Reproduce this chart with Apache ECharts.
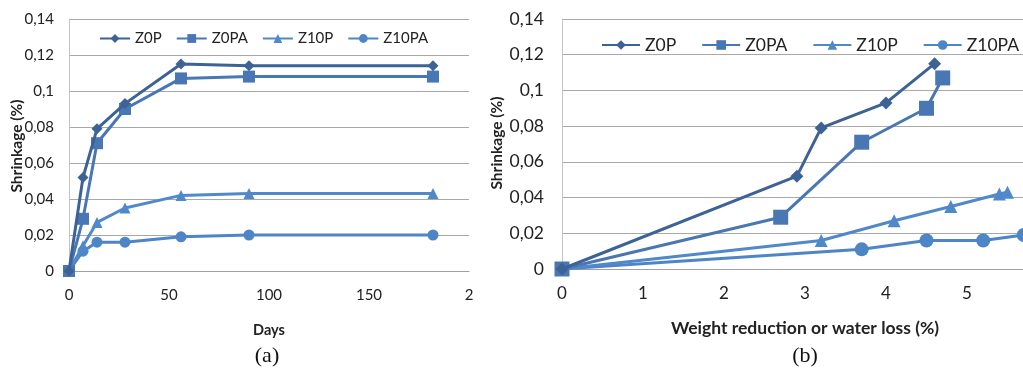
<!DOCTYPE html>
<html>
<head>
<meta charset="utf-8">
<script src="https://cdn.jsdelivr.net/npm/echarts@6/dist/echarts.min.js"></script>
<style>
  html, body { margin: 0; padding: 0; background: #fff; overflow: hidden; }
  #chart { width: 1100px; height: 371px; }
</style>
</head>
<body>
<div id="chart"></div>
<script>
// (a) shrinkage vs days
let days = [0, 7, 14, 28, 56, 90, 182];
let z0p = [0, 0.052, 0.079, 0.093, 0.115, 0.114, 0.114];
let z0pa = [0, 0.029, 0.071, 0.090, 0.107, 0.108, 0.108];
let z10p = [0, 0.014, 0.027, 0.035, 0.042, 0.043, 0.043];
let z10pa = [0, 0.011, 0.016, 0.016, 0.019, 0.020, 0.020];

// (b) shrinkage vs weight reduction
let lossZ0P = [0, 2.9, 3.2, 4.0, 4.6];
let shrZ0P = [0, 0.052, 0.079, 0.093, 0.115];
let lossZ0PA = [0, 2.7, 3.7, 4.5, 4.7];
let shrZ0PA = [0, 0.029, 0.071, 0.090, 0.107];
let lossZ10P = [0, 3.2, 4.1, 4.8, 5.4, 5.5];
let shrZ10P = [0, 0.016, 0.027, 0.035, 0.042, 0.043];
let lossZ10PA = [0, 3.7, 4.5, 5.2, 5.7];
let shrZ10PA = [0, 0.011, 0.016, 0.016, 0.019];

let names = ['Z0P', 'Z0PA', 'Z10P', 'Z10PA'];
let colours = ['#3d6296', '#4977b4', '#5089c9', '#4d85c6'];
let symbols = ['diamond', 'rect', 'triangle', 'circle'];

let font = 'Lato, "Open Sans", sans-serif';

function pairs(xs, ys) {
    let out = [];
    for (let i = 0; i < xs.length; i++) out.push([xs[i], ys[i]]);
    return out;
}

function yFmt(v) {
    return String(+v.toFixed(2)).replace('.', ',');
}

var myChart = echarts.init(document.getElementById('chart'));

let leftSets = [z0p, z0pa, z10p, z10pa];
let rightSets = [pairs(lossZ0P, shrZ0P), pairs(lossZ0PA, shrZ0PA), pairs(lossZ10P, shrZ10P), pairs(lossZ10PA, shrZ10PA)];
let leftSizes = [11, 12, 11, 11];
let rightSizes = [13, 15, 13, 14];

let series = [];
names.forEach((name, i) => {
    series.push({
        name: name, type: 'line', xAxisIndex: 0, yAxisIndex: 0,
        data: pairs(days, leftSets[i]),
        symbol: symbols[i], symbolSize: leftSizes[i],
        color: colours[i], lineStyle: { width: 3 },
        z: 10 - i
    });
});
names.forEach((name, i) => {
    series.push({
        name: name, type: 'line', xAxisIndex: 1, yAxisIndex: 1,
        data: rightSets[i],
        symbol: symbols[i], symbolSize: rightSizes[i],
        color: colours[i], lineStyle: { width: 3 },
        z: 10 - i
    });
});

let yAxisBase = {
    type: 'value', min: 0, max: 0.14, interval: 0.02,
    axisLine: { show: true, lineStyle: { color: '#c4c4c4' } },
    axisTick: { show: false },
    splitLine: { lineStyle: { color: '#a8a8a8', width: 1 } }
};

let option = {
    animation: false,
    textStyle: { fontFamily: font },
    legend: [
        {
            data: names, left: 94, top: 26, itemWidth: 30, itemHeight: 11, itemGap: 14,
            textStyle: { fontSize: 15, color: '#222', fontFamily: font }
        },
        {
            data: names, left: 596, top: 31, itemWidth: 38, itemHeight: 12, itemGap: 25,
            textStyle: { fontSize: 17.5, color: '#222', fontFamily: font }
        }
    ],
    grid: [
        { left: 69, top: 19, width: 400, height: 252 },
        { left: 562, top: 19, width: 486, height: 250 }
    ],
    xAxis: [
        {
            gridIndex: 0, type: 'value', min: 0, max: 200, interval: 50,
            axisLine: { lineStyle: { color: '#a0a0a0' } },
            axisTick: { show: false }, splitLine: { show: false },
            axisLabel: { fontSize: 15, color: '#222', margin: 17, formatter: v => v === 200 ? '2' : String(v) },
            name: 'Days', nameLocation: 'middle', nameGap: 52,
            nameTextStyle: { fontSize: 14.5, fontWeight: 'bold', color: '#222' }
        },
        {
            gridIndex: 1, type: 'value', min: 0, max: 6, interval: 1,
            axisLine: { lineStyle: { color: '#a0a0a0' } },
            axisTick: { show: false }, splitLine: { show: false },
            axisLabel: { fontSize: 17, color: '#222', margin: 16 },
            name: 'Weight reduction or water loss (%)', nameLocation: 'middle', nameGap: 50,
            nameTextStyle: { fontSize: 17.5, fontWeight: 'bold', color: '#222' }
        }
    ],
    yAxis: [
        Object.assign({}, yAxisBase, {
            gridIndex: 0,
            axisLabel: { fontSize: 15, color: '#222', margin: 15, formatter: yFmt }
        }),
        Object.assign({}, yAxisBase, {
            gridIndex: 1,
            axisLabel: { fontSize: 17.5, color: '#222', margin: 18, formatter: yFmt }
        })
    ],
    graphic: [
        {
            type: 'text', x: 17, y: 146, rotation: Math.PI / 2,
            style: { text: 'Shrinkage (%)', fontSize: 15.5, fontWeight: 'bold', fill: '#222', fontFamily: font, align: 'center', verticalAlign: 'middle' }
        },
        {
            type: 'text', x: 497, y: 143, rotation: Math.PI / 2,
            style: { text: 'Shrinkage (%)', fontSize: 15.5, fontWeight: 'bold', fill: '#222', fontFamily: font, align: 'center', verticalAlign: 'middle' }
        },
        {
            type: 'text', x: 267, y: 356,
            style: { text: '(a)', fontSize: 22, fill: '#111', fontFamily: '"Liberation Serif", serif', align: 'center', verticalAlign: 'middle' }
        },
        {
            type: 'text', x: 805, y: 356,
            style: { text: '(b)', fontSize: 22, fill: '#111', fontFamily: '"Liberation Serif", serif', align: 'center', verticalAlign: 'middle' }
        }
    ],
    series: series
};

myChart.setOption(option);
</script>
</body>
</html>
